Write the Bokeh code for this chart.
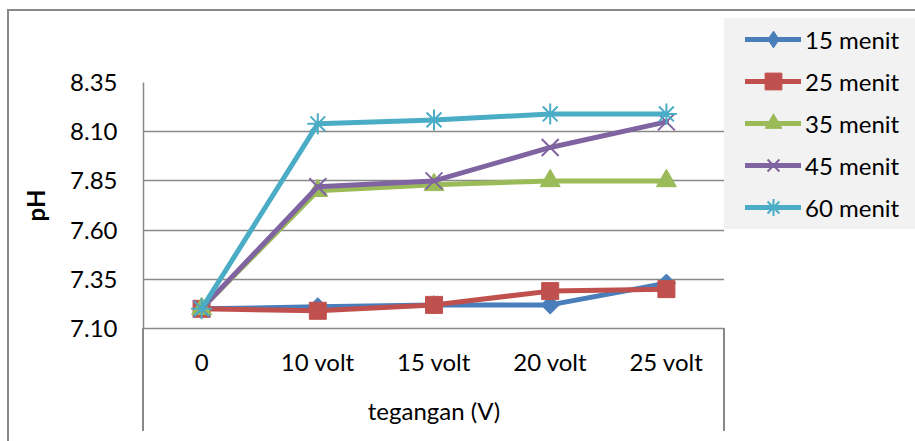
from math import pi
from bokeh.plotting import figure
from bokeh.layouts import row
from bokeh.models import (FactorRange, Range1d, FixedTicker, NumeralTickFormatter,
                          Legend, LegendItem)
from bokeh.embed import file_html
from bokeh.resources import INLINE

# ---- data ----
categories = ["0", "10 volt", "15 volt", "20 volt", "25 volt"]
series_names = ["15 menit", "25 menit", "35 menit", "45 menit", "60 menit"]
ph_15 = [7.20, 7.21, 7.22, 7.22, 7.33]
ph_25 = [7.20, 7.19, 7.22, 7.29, 7.30]
ph_35 = [7.20, 7.80, 7.83, 7.85, 7.85]
ph_45 = [7.20, 7.82, 7.85, 8.02, 8.15]
ph_60 = [7.20, 8.14, 8.16, 8.19, 8.19]
y_ticks = [7.10, 7.35, 7.60, 7.85, 8.10, 8.35]
x_title = "tegangan (V)"
y_title = "pH"

FONT = "Lato"
GRAY = "#898989"
LEGEND_BG = "#f2f2f2"

# ---------------- main chart ----------------
p = figure(width=724, height=441, output_backend="svg", toolbar_location=None,
           x_range=FactorRange(*categories), y_range=Range1d(7.10, 8.35),
           min_border_left=143, min_border_right=0, min_border_top=82,
           min_border_bottom=113)
p.outline_line_color = None
p.background_fill_color = "white"
p.border_fill_color = None

# grid
p.xgrid.grid_line_color = None
p.ygrid.ticker = FixedTicker(ticks=y_ticks)
p.ygrid.grid_line_color = GRAY
p.ygrid.grid_line_width = 1.5

# y axis
p.yaxis.ticker = FixedTicker(ticks=y_ticks)
p.yaxis.formatter = NumeralTickFormatter(format="0.00")
p.yaxis.major_tick_out = 0
p.yaxis.major_tick_in = 0
p.yaxis.minor_tick_out = 0
p.yaxis.axis_line_color = GRAY
p.yaxis.axis_line_width = 1.5
p.yaxis.major_label_standoff = 26
p.yaxis.major_label_text_font = FONT
p.yaxis.major_label_text_font_size = "24px"
p.yaxis.major_label_text_color = "black"
p.yaxis.axis_label = y_title
p.yaxis.axis_label_text_font = FONT
p.yaxis.axis_label_text_font_size = "24px"
p.yaxis.axis_label_text_font_style = "bold"
p.yaxis.axis_label_text_color = "black"
p.yaxis.axis_label_standoff = 17

# x axis
p.xaxis.major_tick_out = 0
p.xaxis.major_tick_in = 0
p.xaxis.axis_line_color = GRAY
p.xaxis.axis_line_width = 1.5
p.xaxis.major_label_standoff = 18
p.xaxis.major_label_text_font = FONT
p.xaxis.major_label_text_font_size = "24px"
p.xaxis.major_label_text_color = "black"
p.xaxis.axis_label = x_title
p.xaxis.axis_label_text_font = FONT
p.xaxis.axis_label_text_font_size = "24px"
p.xaxis.axis_label_text_font_style = "normal"
p.xaxis.axis_label_text_color = "black"
p.xaxis.axis_label_standoff = 17

colors = ["#4a7ebb", "#c0504d", "#9bbb59", "#8064a2", "#4bacc6"]
series = [ph_15, ph_25, ph_35, ph_45, ph_60]
# (plot marker, size, angle, line width, legend marker)
markers = [("square", 13, pi / 4, 1, "diamond"), ("square", 17, 0, 1, "square"),
           ("triangle", 20, 0, 1, "triangle"), ("x", 24, 0, 2, "x"),
           ("asterisk", 21, 0, 2, "asterisk")]

for vals, col, (mk, sz, ang, lw, _) in zip(series, colors, markers):
    p.line(categories, vals, line_color=col, line_width=5, line_cap="round",
           line_join="round")
    p.scatter(categories, vals, marker=mk, size=sz, angle=ang,
              fill_color=col, line_color=col, line_width=lw)

# ---------------- legend panel (separate plot, same series) ----------------
lp = figure(width=191, height=441, output_backend="svg", toolbar_location=None,
            x_range=FactorRange(*categories), y_range=Range1d(0, 1),
            x_axis_type=None, y_axis_type=None, frame_align=False,
            min_border=0, min_border_left=0, min_border_right=0,
            min_border_top=0, min_border_bottom=0)
lp.outline_line_color = None
lp.background_fill_color = None
lp.border_fill_color = None
lp.grid.visible = False

items = []
for name, vals, col, (_, _, _, lw, lmk) in zip(series_names, series, colors, markers):
    # the series lie outside this panel's y-range: only their legend keys show
    lr = lp.line(categories, vals, line_color=col, line_width=5, line_cap="round")
    sr = lp.scatter(categories, vals, marker=lmk, fill_color=col, line_color=col,
                    line_width=lw)
    items.append(LegendItem(label=name, renderers=[lr, sr]))

legend = Legend(items=items, location=(21, 213))
legend.background_fill_alpha = 0
legend.border_line_color = None
legend.padding = 0
legend.margin = 0
legend.spacing = 0
legend.glyph_width = 56
legend.glyph_height = 42
legend.label_height = 42
legend.label_standoff = 4
legend.label_text_font = FONT
legend.label_text_font_size = "24px"
legend.label_text_color = "black"
legend.label_text_baseline = "middle"
lp.add_layout(legend, "center")

layout = row(p, lp, spacing=0)
# chart border, category-axis box and legend panel drawn as page background
rects = [  # (x, y, w, h, colour)
    (7, 9, 908, 2, GRAY),
    (7, 9, 2, 432, GRAY),
    (142, 328, 2, 103, GRAY),
    (723, 328, 2, 103, GRAY),
    (724, 18, 191, 211, LEGEND_BG),
]
layout.styles = {
    "background-color": "white",
    "background-image": ", ".join(f"linear-gradient({c}, {c})" for *_, c in rects),
    "background-size": ", ".join(f"{w}px {h}px" for _, _, w, h, _ in rects),
    "background-position": ", ".join(f"{x}px {y}px" for x, y, *_ in rects),
    "background-repeat": "no-repeat",
}

open("out.html", "w").write(file_html(layout, INLINE))
